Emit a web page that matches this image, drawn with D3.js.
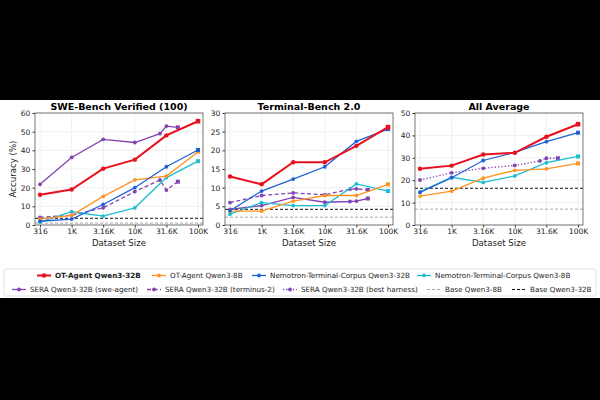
<!DOCTYPE html>
<html>
<head>
<meta charset="utf-8">
<script src="https://cdn.jsdelivr.net/npm/d3@7"></script>
<style>
  body { margin: 0; background: #000; }
  svg { display: block; font-family: "DejaVu Sans", sans-serif; }
</style>
</head>
<body>
<div id="chart"></div>
<script>
// x positions (dataset size)
const xTicks = [316, 1000, 3160, 10000, 31600, 100000];
const xTickLabels = ["316", "1K", "3.16K", "10K", "31.6K", "100K"];
const seraX = [316, 1000, 3160, 10000, 25000, 31600, 48000];

// SWE-Bench Verified (100)
const sweOt32 = [16.2, 19.0, 30.2, 35.0, 48.0, 55.6];
const sweOt8 = [3.2, 5.2, 15.3, 24.2, 26.2, 39.3];
const sweNemo32 = [2.0, 3.2, 11.0, 20.0, 31.2, 40.2];
const sweNemo8 = [1.6, 7.1, 4.8, 9.2, 25.4, 34.2];
const sweSeraSwe = [21.8, 36.2, 45.9, 44.2, 48.9, 53.0, 52.3];
const sweSeraTerm = [4.1, 5.2, 9.2, 17.9, 24.1, 18.7, 23.2];
const sweBase8 = 1.0, sweBase32 = 3.6;

// Terminal-Bench 2.0
const tbOt32 = [13.0, 10.9, 16.8, 16.8, 21.2, 26.2];
const tbOt8 = [3.7, 3.7, 6.4, 7.9, 7.9, 10.9];
const tbNemo32 = [3.8, 9.1, 12.3, 15.6, 22.4, 25.7];
const tbNemo8 = [2.9, 6.0, 5.2, 5.2, 11.0, 9.1];
const tbSeraSwe = [4.2, 5.2, 7.4, 6.1, 6.3, 6.4, 7.1];
const tbSeraTerm = [6.0, 7.9, 8.6, 8.1, 9.6, 9.7, 9.4];
const tbBase8 = 2.1, tbBase32 = 4.2;

// All Average
const avgOt32 = [25.1, 26.5, 31.5, 32.2, 39.4, 45.0];
const avgOt8 = [12.9, 15.1, 20.9, 24.4, 25.1, 27.5];
const avgNemo32 = [14.6, 21.1, 28.8, 32.4, 37.2, 41.2];
const avgNemo8 = [14.8, 21.3, 19.0, 21.9, 27.8, 30.6];
const avgSeraBest = [20.1, 23.3, 25.3, 26.6, 28.6, 29.8, 29.8];
const avgBase8 = 7.1, avgBase32 = 16.4;

const panelTitles = ["SWE-Bench Verified (100)", "Terminal-Bench 2.0", "All Average"];
const panelYMax = [60, 30, 50];
const panelYStep = [10, 5, 10];

const red = "#e8101c", orange = "#ff9422", blue = "#2160d4", cyan = "#1cbfd1", purple = "#8142b2";

const styles = {
  ot32: { label: "OT-Agent Qwen3-32B", color: red, width: 2, dash: null, bold: true },
  ot8: { label: "OT-Agent Qwen3-8B", color: orange, width: 1.3, dash: null },
  nemo32: { label: "Nemotron-Terminal-Corpus Qwen3-32B", color: blue, width: 1.3, dash: null },
  nemo8: { label: "Nemotron-Terminal-Corpus Qwen3-8B", color: cyan, width: 1.3, dash: null },
  seraSwe: { label: "SERA Qwen3-32B (swe-agent)", color: purple, width: 1.3, dash: null },
  seraTerm: { label: "SERA Qwen3-32B (terminus-2)", color: purple, width: 1.3, dash: "4,2.5" },
  seraBest: { label: "SERA Qwen3-32B (best harness)", color: purple, width: 1.3, dash: "1.3,2" },
  base8: { label: "Base Qwen3-8B", color: "#aaaaaa", width: 1, dash: "3,2" },
  base32: { label: "Base Qwen3-32B", color: "#111111", width: 1, dash: "3,2" }
};

const panels = [
  { series: [["seraSwe", seraX, sweSeraSwe], ["seraTerm", seraX, sweSeraTerm], ["nemo8", xTicks, sweNemo8],
             ["ot8", xTicks, sweOt8], ["nemo32", xTicks, sweNemo32], ["ot32", xTicks, sweOt32]],
    base: [["base8", sweBase8], ["base32", sweBase32]] },
  { series: [["seraSwe", seraX, tbSeraSwe], ["seraTerm", seraX, tbSeraTerm], ["nemo8", xTicks, tbNemo8],
             ["ot8", xTicks, tbOt8], ["nemo32", xTicks, tbNemo32], ["ot32", xTicks, tbOt32]],
    base: [["base8", tbBase8], ["base32", tbBase32]] },
  { series: [["seraBest", seraX, avgSeraBest], ["nemo8", xTicks, avgNemo8],
             ["ot8", xTicks, avgOt8], ["nemo32", xTicks, avgNemo32], ["ot32", xTicks, avgOt32]],
    base: [["base8", avgBase8], ["base32", avgBase32]] }
];

const W = 600, H = 400;
const svg = d3.select("#chart").append("svg").attr("width", W).attr("height", H);
svg.append("rect").attr("width", W).attr("height", H).attr("fill", "#000");
svg.append("rect").attr("x", 0).attr("y", 100).attr("width", W).attr("height", 198).attr("fill", "#fff");

const panelLeft = [35, 225, 415];
const pw = 168, plotTop = 113, plotBottom = 225;

panels.forEach((p, i) => {
  const g = svg.append("g").attr("transform", `translate(${panelLeft[i]},0)`);
  const x = d3.scaleLog().domain([316, 100000]).range([5, pw - 5]);
  const y = d3.scaleLinear().domain([0, panelYMax[i]]).range([plotBottom, plotTop]);
  const yTicks = d3.range(0, panelYMax[i] + 0.01, panelYStep[i]);

  // grid
  g.selectAll(".gy").data(yTicks).join("line")
    .attr("x1", 0).attr("x2", pw).attr("y1", d => y(d)).attr("y2", d => y(d))
    .attr("stroke", "#e6e6e6").attr("stroke-width", 0.6);
  g.selectAll(".gx").data(xTicks).join("line")
    .attr("x1", d => x(d)).attr("x2", d => x(d)).attr("y1", plotTop).attr("y2", plotBottom)
    .attr("stroke", "#e6e6e6").attr("stroke-width", 0.6);

  // axes
  const xAxis = g.append("g").attr("transform", `translate(0,${plotBottom})`)
    .call(d3.axisBottom(x).tickValues(xTicks).tickFormat((d, k) => xTickLabels[k]).tickSize(2.5).tickSizeOuter(0));
  const yAxis = g.append("g")
    .call(d3.axisLeft(y).tickValues(yTicks).tickSize(2.5).tickSizeOuter(0));
  [xAxis, yAxis].forEach(a => {
    a.select(".domain").remove();
    a.selectAll("text").attr("font-size", 7.5).attr("fill", "#222").attr("font-family", "DejaVu Sans");
    a.selectAll("line").attr("stroke", "#333");
  });
  xAxis.selectAll("text").attr("y", 4).attr("dy", "0.7em");
  yAxis.selectAll("text").attr("dx", "0.1em");

  // base lines
  p.base.forEach(([key, v]) => {
    const s = styles[key];
    g.append("line").attr("x1", 0).attr("x2", pw).attr("y1", y(v)).attr("y2", y(v))
      .attr("stroke", s.color).attr("stroke-width", s.width).attr("stroke-dasharray", s.dash);
  });

  const line = d3.line().x(d => x(d[0])).y(d => y(d[1]));
  p.series.forEach(([key, xs, vals]) => {
    const s = styles[key];
    const pts = vals.map((v, k) => [xs[k], v]);
    g.append("path").datum(pts).attr("d", line).attr("fill", "none")
      .attr("stroke", s.color).attr("stroke-width", s.width).attr("stroke-dasharray", s.dash);
    const last = pts.length - 1;
    g.selectAll(null).data(pts.slice(0, last)).join("circle")
      .attr("cx", d => x(d[0])).attr("cy", d => y(d[1])).attr("r", s.bold ? 2.2 : 1.9)
      .attr("fill", s.color);
    const sz = s.bold ? 4.6 : 4;
    g.append("rect").attr("x", x(pts[last][0]) - sz / 2).attr("y", y(pts[last][1]) - sz / 2)
      .attr("width", sz).attr("height", sz).attr("fill", s.color);
  });

  // frame
  g.append("rect").attr("x", 0).attr("y", plotTop).attr("width", pw).attr("height", plotBottom - plotTop)
    .attr("fill", "none").attr("stroke", "#555").attr("stroke-width", 0.8);

  g.append("text").attr("x", pw / 2).attr("y", 109.5).attr("text-anchor", "middle")
    .attr("font-size", 9.5).attr("font-weight", "bold").text(panelTitles[i]);
  g.append("text").attr("x", pw / 2).attr("y", 246).attr("text-anchor", "middle")
    .attr("font-size", 8.6).attr("fill", "#222").text("Dataset Size");
});

svg.append("text").attr("transform", `translate(16,${(plotTop + plotBottom) / 2}) rotate(-90)`)
  .attr("text-anchor", "middle").attr("font-size", 8.6).attr("fill", "#222").text("Accuracy (%)");

// legend
svg.append("rect").attr("x", 4).attr("y", 269).attr("width", 592).attr("height", 27).attr("rx", 2)
  .attr("fill", "#fff").attr("stroke", "#d8d8d8").attr("stroke-width", 0.8);
const legendRows = [
  [["ot32", 37], ["ot8", 152], ["nemo32", 252], ["nemo8", 417]],
  [["seraSwe", 12], ["seraTerm", 147], ["seraBest", 283], ["base8", 427], ["base32", 512]]
];
const rowY = [275.5, 289.5];
legendRows.forEach((row, r) => {
  row.forEach(([key, lx]) => {
    const s = styles[key];
    const ly = rowY[r];
    svg.append("line").attr("x1", lx).attr("x2", lx + 14).attr("y1", ly).attr("y2", ly)
      .attr("stroke", s.color).attr("stroke-width", s.width).attr("stroke-dasharray", s.dash);
    if (!key.startsWith("base")) {
      svg.append("circle").attr("cx", lx + 7).attr("cy", ly).attr("r", s.bold ? 2.2 : 1.9).attr("fill", s.color);
    }
    svg.append("text").attr("x", lx + 18).attr("y", ly + 2.5).attr("font-size", 7.2)
      .attr("font-weight", s.bold ? "bold" : null).attr("fill", "#222").text(s.label);
  });
});
</script>
</body>
</html>
